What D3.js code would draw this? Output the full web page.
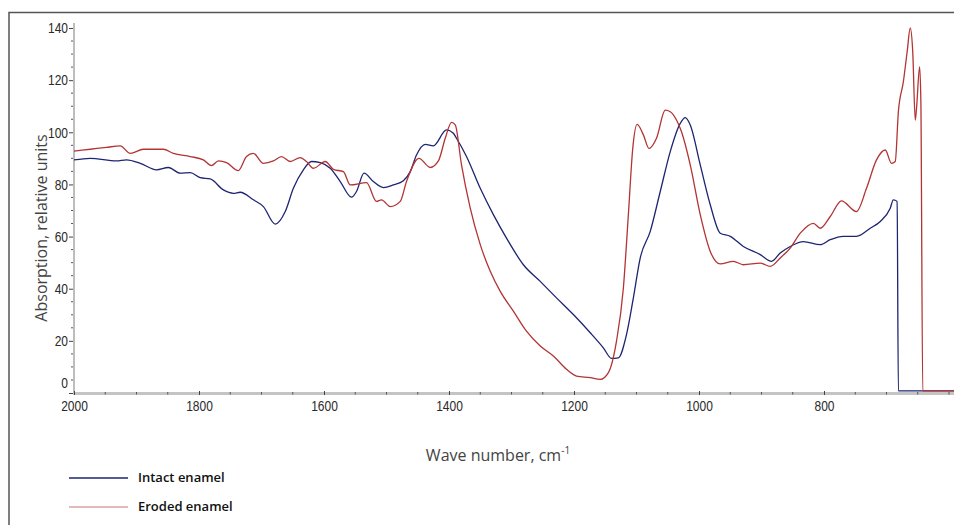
<!DOCTYPE html>
<html>
<head>
<meta charset="utf-8">
<script src="https://cdn.jsdelivr.net/npm/d3@7"></script>
<style>
  body { margin: 0; background: #fff; }
  svg { display: block; }
  .tick text { font-family: "Liberation Sans", Arial, sans-serif; font-size: 15px; fill: #2a2a2a; }
</style>
</head>
<body>
<svg id="chart" width="954" height="525"></svg>
<script>
"use strict";

// IR spectra: [wave number cm-1, absorption]
const intactEnamel = [
  [2000, 89.4], [1974, 90.0], [1932, 89.0], [1916, 89.4], [1894, 88.1], [1868, 85.6],
  [1849, 86.5], [1830, 84.3], [1814, 84.5], [1798, 82.6], [1782, 82.1], [1761, 77.9],
  [1745, 76.6], [1734, 77.0], [1713, 74.1], [1697, 71.5], [1678, 64.8], [1662, 69.6],
  [1649, 78.5], [1633, 85.6], [1620, 88.8], [1606, 88.4], [1590, 86.2], [1574, 81.1],
  [1556, 75.1], [1548, 77.3], [1536, 84.3], [1521, 81.1], [1505, 78.8], [1489, 79.8],
  [1473, 81.4], [1462, 84.9], [1452, 91.3], [1438, 95.4], [1425, 94.8], [1404, 100.9],
  [1393, 99.6], [1388, 97.7], [1372, 90.7], [1350, 78.5], [1329, 68.4], [1308, 59.4],
  [1281, 49.2], [1254, 42.8], [1228, 36.5], [1201, 30.1], [1174, 23.1], [1153, 17.3],
  [1140, 13.3], [1129, 13.5], [1116, 22.4], [1105, 36.5], [1094, 51.8], [1078, 62.0],
  [1062, 77.3], [1046, 92.6], [1030, 103.4], [1022, 105.6], [1014, 102.8], [998, 87.5],
  [982, 72.2], [966, 61.3], [950, 60.1], [929, 56.2], [902, 53.1], [884, 50.5],
  [870, 53.7], [854, 56.2], [833, 58.1], [806, 56.9], [790, 58.8], [769, 60.1],
  [748, 60.1], [726, 63.2], [710, 65.8], [694, 70.9], [689, 74.1], [683, 73.5],
  [681, 0.8], [592, 0.8]
];

const erodedEnamel = [
  [2000, 92.8], [1974, 93.5], [1948, 94.2], [1926, 94.8], [1910, 91.9], [1889, 93.5],
  [1857, 93.5], [1841, 91.9], [1814, 90.7], [1793, 89.4], [1780, 87.2], [1769, 89.0],
  [1756, 88.4], [1737, 85.3], [1724, 90.7], [1713, 91.9], [1697, 88.1], [1681, 89.0],
  [1668, 90.7], [1654, 88.8], [1638, 90.3], [1628, 88.8], [1617, 86.2], [1598, 88.8],
  [1585, 85.8], [1569, 84.9], [1558, 79.8], [1532, 80.7], [1516, 73.5], [1508, 74.1],
  [1494, 71.5], [1478, 73.5], [1468, 81.1], [1448, 90.0], [1430, 86.5], [1417, 89.0],
  [1406, 97.7], [1396, 103.8], [1390, 102.8], [1380, 87.5], [1366, 70.9], [1350, 56.9],
  [1334, 46.7], [1318, 39.0], [1297, 31.4], [1276, 23.7], [1254, 18.0], [1233, 14.2],
  [1212, 9.1], [1196, 6.5], [1174, 5.9], [1158, 5.2], [1145, 7.8], [1132, 19.9],
  [1121, 40.3], [1113, 68.4], [1106, 93.8], [1099, 103.0], [1089, 99.0], [1080, 93.8],
  [1068, 97.7], [1054, 108.5], [1046, 107.9], [1036, 104.7], [1028, 100.2], [1014, 87.5],
  [998, 68.4], [982, 54.3], [966, 49.5], [945, 50.5], [929, 49.2], [902, 49.8],
  [886, 48.6], [870, 51.8], [854, 55.6], [838, 61.3], [817, 65.1], [806, 63.2],
  [790, 67.7], [772, 73.7], [748, 69.6], [732, 78.5], [716, 89.4], [702, 93.2],
  [692, 88.1], [686, 88.8], [681, 107.9], [673, 119.4], [667, 130.8], [662, 140.0],
  [658, 130.8], [654, 104.7], [652, 109.1], [647, 125.1], [645, 111.7], [642, 0.8],
  [592, 0.8]
];

const xTicks = [2000, 1800, 1600, 1400, 1200, 1000, 800];
const yTicks = [0, 20, 40, 60, 80, 100, 120, 140];

const legendItems = [
  { label: "Intact enamel", color: "#1d2470" },
  { label: "Eroded enamel", color: "#d8a3a3" }
];

const svg = d3.select("#chart");

// outer frame (only top and left edges are visible in the crop)
svg.append("path")
  .attr("d", "M9,525 V12.5 H954")
  .attr("fill", "none")
  .attr("stroke", "#555")
  .attr("stroke-width", 1.5);

const x = d3.scaleLinear().domain([2000, 592]).range([74, 954]);
const y = d3.scaleLinear().domain([0, 140]).range([393, 28]);

// minor ticks
const xMinor = d3.range(2000, 590, -50).filter(v => !xTicks.includes(v));
const yMinor = d3.range(0, 141, 5).filter(v => !yTicks.includes(v));

// y axis
svg.append("line")
  .attr("x1", 74).attr("x2", 74).attr("y1", 23).attr("y2", 394)
  .attr("stroke", "#bdbdbd").attr("stroke-width", 2);

svg.append("g").selectAll("line").data(yMinor).join("line")
  .attr("x1", 71).attr("x2", 73)
  .attr("y1", d => y(d)).attr("y2", d => y(d))
  .attr("stroke", "#555").attr("stroke-width", 1);

const yAxis = svg.append("g")
  .attr("transform", "translate(74,0)")
  .call(d3.axisLeft(y).tickValues(yTicks).tickSize(4).tickPadding(3));
yAxis.select(".domain").remove();
yAxis.selectAll(".tick line").attr("stroke", "#444").attr("transform", "translate(-1,0)");
// narrow digits like the original
yAxis.selectAll(".tick text").attr("x", -7.5).attr("transform", "scale(0.8,1)");
// the zero label sits a little above the baseline in the original
yAxis.selectAll(".tick").filter(d => d === 0).select("text").attr("dy", "-0.4em");

// x axis
svg.append("line")
  .attr("x1", 73).attr("x2", 954).attr("y1", 393.5).attr("y2", 393.5)
  .attr("stroke", "#c4c4c4").attr("stroke-width", 3);

svg.append("g").selectAll("line").data(xMinor).join("line")
  .attr("x1", d => x(d)).attr("x2", d => x(d))
  .attr("y1", 392).attr("y2", 394.5)
  .attr("stroke", "#555").attr("stroke-width", 1);

const xAxis = svg.append("g")
  .attr("transform", "translate(0,391)")
  .call(d3.axisBottom(x).tickValues(xTicks).tickSize(4).tickPadding(5).tickFormat(d3.format("d")));
xAxis.select(".domain").remove();
xAxis.selectAll(".tick line").attr("stroke", "#444");
xAxis.selectAll(".tick text").attr("transform", "scale(0.8,1)");

// spectra
const line = d3.line()
  .x(d => x(d[0]))
  .y(d => y(d[1]))
  .curve(d3.curveMonotoneX);

svg.append("path")
  .datum(intactEnamel)
  .attr("d", line)
  .attr("fill", "none")
  .attr("stroke", "#1d2470")
  .attr("stroke-width", 1.3)
  .attr("stroke-linejoin", "round");

svg.append("path")
  .datum(erodedEnamel)
  .attr("d", line)
  .attr("fill", "none")
  .attr("stroke", "#b23434")
  .attr("stroke-width", 1.3)
  .attr("stroke-linejoin", "round");

// axis titles
svg.append("text")
  .attr("transform", "translate(41,228) rotate(-90)")
  .attr("text-anchor", "middle")
  .attr("dy", "0.35em")
  .attr("font-family", "'Open Sans', sans-serif")
  .attr("font-size", 16)
  .attr("fill", "#444")
  .text("Absorption, relative units");

const xTitle = svg.append("text")
  .attr("x", 498).attr("y", 461)
  .attr("text-anchor", "middle")
  .attr("font-family", "'Open Sans', sans-serif")
  .attr("font-size", 16)
  .attr("fill", "#444");
xTitle.append("tspan").text("Wave number, cm");
xTitle.append("tspan").attr("font-size", 10).attr("dy", -7).text("-1");

// legend
const legend = svg.append("g").selectAll("g").data(legendItems).join("g")
  .attr("transform", (d, i) => `translate(69,${478 + i * 29})`);

legend.append("line")
  .attr("x1", 0).attr("x2", 59)
  .attr("stroke", d => d.color)
  .attr("stroke-width", 1.3);

legend.append("text")
  .attr("x", 69).attr("y", 0).attr("dy", "0.3em")
  .attr("font-family", "'Open Sans', sans-serif")
  .attr("font-size", 13)
  .attr("font-weight", 600)
  .attr("fill", "#111")
  .text(d => d.label);
</script>
</body>
</html>
